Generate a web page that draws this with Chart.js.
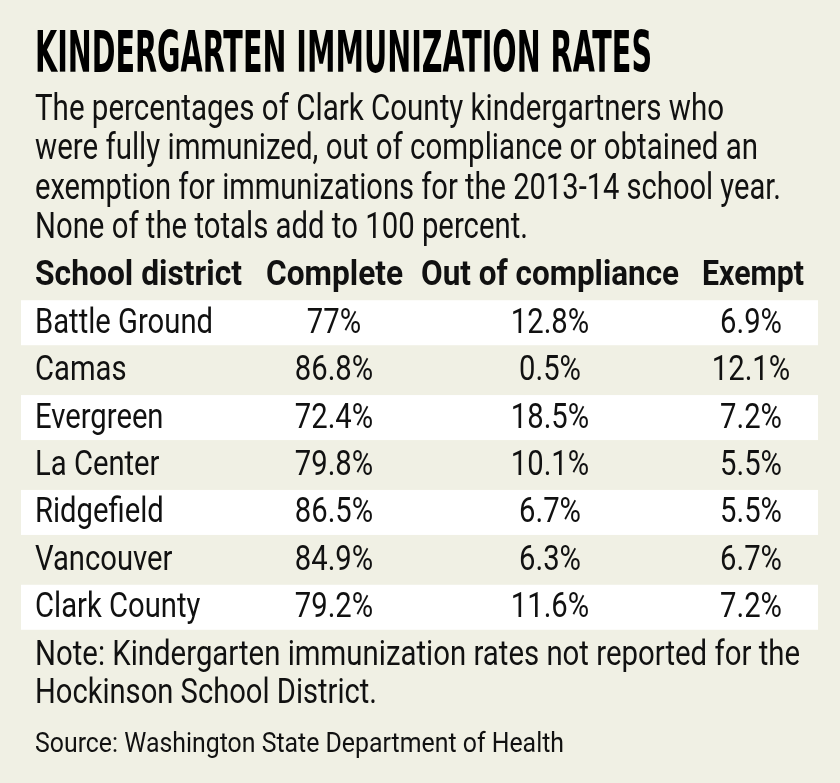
<!DOCTYPE html>
<html>
<head>
<meta charset="utf-8">
<title>Kindergarten immunization rates</title>
<script src="https://cdn.jsdelivr.net/npm/chart.js@4/dist/chart.umd.min.js"></script>
<style>
  html, body { margin: 0; padding: 0; background: #f0f0e4; }
  #wrap { width: 840px; height: 783px; }
</style>
</head>
<body>
<div id="wrap"><canvas id="table" width="840" height="783"></canvas></div>
<script>
// Table data
const title = "KINDERGARTEN IMMUNIZATION RATES";
const intro = [
  "The percentages of Clark County kindergartners who",
  "were fully immunized, out of compliance or obtained an",
  "exemption for immunizations for the 2013-14 school year.",
  "None of the totals add to 100 percent."
];
const headers = ["School district", "Complete", "Out of compliance", "Exempt"];
const districts = ["Battle Ground", "Camas", "Evergreen", "La Center", "Ridgefield", "Vancouver", "Clark County"];
const complete = [77, 86.8, 72.4, 79.8, 86.5, 84.9, 79.2];
const outOfCompliance = [12.8, 0.5, 18.5, 10.1, 6.7, 6.3, 11.6];
const exempt = [6.9, 12.1, 7.2, 5.5, 5.5, 6.7, 7.2];
const note = [
  "Note: Kindergarten immunization rates not reported for the",
  "Hockinson School District."
];
const source = "Source: Washington State Department of Health";

// Layout (pixels)
const textLeft = 35;
const colCenters = [334, 550, 751];
const headCenters = [334.5, 550, 753];
const headWidths = [207, 137, 258, 102];
const introWidths = [689, 723, 746, 493];
const introBase = [120, 159, 199, 238];
const noteWidths = [765, 342];
const noteBase = [665, 703];

const ink = "#111";
const bodyFamily = "'Liberation Sans Narrow', Roboto, 'Liberation Sans', sans-serif";
const titleFamily = "'DejaVu Sans Condensed', 'DejaVu Sans', 'Liberation Sans Narrow', sans-serif";

// draw text squeezed to a given width
function fitText(ctx, text, x, y, width, font, align) {
  ctx.save();
  ctx.font = font;
  ctx.textAlign = "left";
  ctx.textBaseline = "alphabetic";
  const sx = width / ctx.measureText(text).width;
  const left = align === "center" ? x - width / 2 : x;
  ctx.translate(left, y);
  ctx.scale(sx, 1);
  ctx.fillText(text, 0, 0);
  ctx.restore();
}

// draw text with a fixed horizontal scale
function scaledText(ctx, text, x, y, sx, font, align) {
  ctx.save();
  ctx.font = font;
  ctx.textAlign = "left";
  ctx.textBaseline = "alphabetic";
  const w = ctx.measureText(text).width * sx;
  const left = align === "center" ? x - w / 2 : x;
  ctx.translate(left, y);
  ctx.scale(sx, 1);
  ctx.fillText(text, 0, 0);
  ctx.restore();
}

const tablePlugin = {
  id: "tablePlugin",
  beforeDatasetsDraw(chart) {
    const ctx = chart.ctx;
    const area = chart.chartArea;
    const y = chart.scales.y;
    const band = 45;
    ctx.save();
    ctx.fillStyle = "#ffffff";
    districts.forEach((d, i) => {
      if (i % 2 === 0) {
        const cy = y.getPixelForValue(i);
        ctx.fillRect(area.left, cy - band / 2, area.right - area.left, band);
      }
    });
    ctx.restore();
  },
  afterDatasetsDraw(chart) {
    const ctx = chart.ctx;
    const y = chart.scales.y;
    ctx.save();
    ctx.fillStyle = "#000";
    fitText(ctx, title, textLeft, 72, 617, "bold 57px " + titleFamily, "left");

    ctx.fillStyle = ink;
    intro.forEach((line, i) => {
      fitText(ctx, line, textLeft, introBase[i], introWidths[i], "36px " + bodyFamily, "left");
    });

    // header row
    const headFont = "bold 35px " + bodyFamily;
    fitText(ctx, headers[0], textLeft, 285, headWidths[0], headFont, "left");
    for (let c = 1; c < headers.length; c++) {
      fitText(ctx, headers[c], headCenters[c - 1], 285, headWidths[c], headFont, "center");
    }

    // body cells
    const cellFont = "35px " + bodyFamily;
    ctx.font = cellFont;
    const sx = 178 / ctx.measureText(districts[0]).width;
    const cols = [complete, outOfCompliance, exempt];
    districts.forEach((d, i) => {
      const base = y.getPixelForValue(i) + 10;
      scaledText(ctx, d, textLeft, base, sx, cellFont, "left");
      cols.forEach((arr, c) => {
        scaledText(ctx, arr[i] + "%", colCenters[c], base, sx, cellFont, "center");
      });
    });

    note.forEach((line, i) => {
      fitText(ctx, line, textLeft, noteBase[i], noteWidths[i], "35px " + bodyFamily, "left");
    });
    fitText(ctx, source, textLeft, 752, 529, "28px " + bodyFamily, "left");
    ctx.restore();
  }
};

new Chart(document.getElementById("table"), {
  type: "bar",
  data: {
    labels: districts,
    datasets: [
      { label: headers[1], data: complete, backgroundColor: "rgba(0,0,0,0)" },
      { label: headers[2], data: outOfCompliance, backgroundColor: "rgba(0,0,0,0)" },
      { label: headers[3], data: exempt, backgroundColor: "rgba(0,0,0,0)" }
    ]
  },
  options: {
    indexAxis: "y",
    responsive: false,
    devicePixelRatio: 1,
    animation: false,
    layout: { padding: { top: 299, bottom: 152, left: 21, right: 22 } },
    scales: {
      x: { display: false, min: 0, max: 100 },
      y: { display: false }
    },
    plugins: {
      legend: { display: false },
      tooltip: { enabled: false }
    }
  },
  plugins: [tablePlugin]
});
</script>
</body>
</html>
